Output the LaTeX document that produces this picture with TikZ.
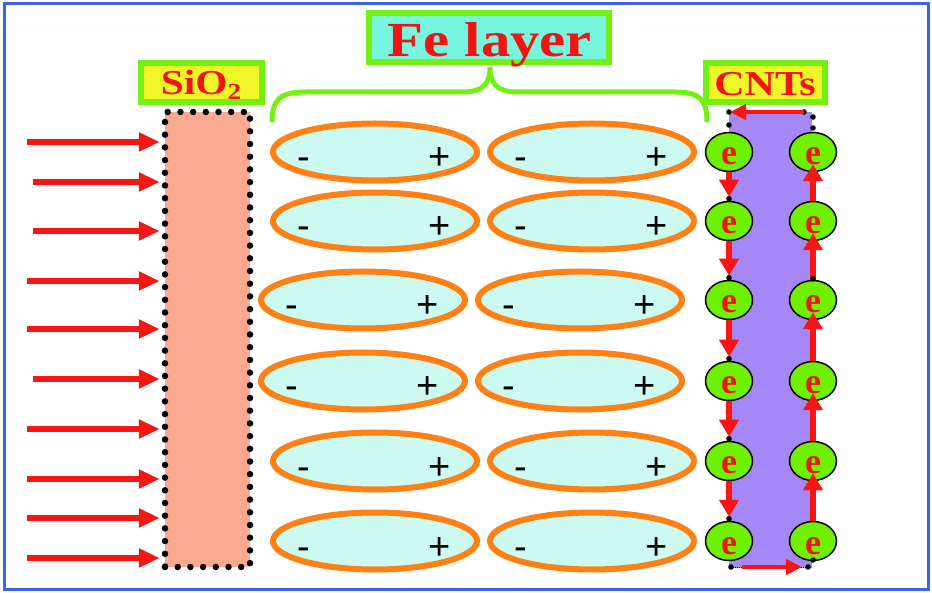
\documentclass[tikz,border=0pt]{standalone}
\usepackage{fontspec}
\setmainfont{Liberation Serif}
\newfontfamily\signfont{Liberation Sans}
\usepackage{graphicx}
\usepackage{tikz}
\usetikzlibrary{arrows.meta}
\usetikzlibrary{shapes.geometric}
\usetikzlibrary{calc}

\definecolor{frameblue}{RGB}{60,100,235}
\definecolor{limegreen}{RGB}{115,240,20}
\definecolor{tagyellow}{RGB}{240,245,40}
\definecolor{tagcyan}{RGB}{120,245,222}
\definecolor{labelred}{RGB}{240,20,20}
\definecolor{arrowred}{RGB}{250,20,20}
\definecolor{salmon}{RGB}{250,170,145}
\definecolor{fefill}{RGB}{205,250,240}
\definecolor{feorange}{RGB}{255,128,20}
\definecolor{cntpurple}{RGB}{165,135,245}
\definecolor{egreen}{RGB}{110,240,0}

\tikzset{
  labelbox/.style={draw=limegreen, line width=6pt, inner sep=0pt},
  labeltext/.style={anchor=base, text=labelred, font=\bfseries\fontsize{35}{36}\selectfont},
  wall/.style={draw=black, fill=salmon, line width=6.5pt, line cap=round,
    dash pattern=on 0pt off 12.7pt, inner sep=0pt},
  feball/.style={ellipse, draw=feorange, fill=fefill, line width=6pt,
    minimum width=204pt, minimum height=57pt, inner sep=0pt},
  charge/.style={anchor=base, font=\signfont\fontsize{38}{40}\selectfont},
  electron/.style={ellipse, draw=black, line width=1.5pt, fill=egreen,
    minimum width=47pt, minimum height=39pt, inner sep=0pt, text=labelred,
    font=\bfseries\fontsize{36}{38}\selectfont, text height=26pt, text depth=0pt},
  incident/.style={draw=arrowred, line width=6pt, -{Triangle[length=21pt,width=18pt]}},
  eflow/.style={draw=arrowred, line width=5.5pt, -{Triangle[length=17pt,width=19pt]}},
  contact/.style={fill=black},
}

\begin{document}
\begin{tikzpicture}[x=1pt, y=-1pt]
  \useasboundingbox (0,0) rectangle (932,593);
  \draw[frameblue, line width=3pt] (4,4) rectangle (928,589);

  % labels
  \node[labelbox, fill=tagcyan, minimum width=240pt, minimum height=49pt] (felabel) at (489,37.5) {};
  \node[labeltext, font=\bfseries\fontsize{49}{50}\selectfont] (fetext) at (490,57) {\scalebox{1.2}[1]{Fe layer}};
  \node[labelbox, fill=tagyellow, minimum width=121pt, minimum height=39pt] (sio2label) at (201.5,82.5) {};
  \node[labeltext] (sio2text) at (201,95) {\scalebox{1.18}[1]{SiO\raisebox{-5pt}{\fontsize{23}{23}\selectfont 2}}};
  \node[labelbox, fill=tagyellow, minimum width=119pt, minimum height=39pt] (cntlabel) at (765.5,82.5) {};
  \node[labeltext] (cnttext) at (765,96) {\scalebox{1.2}[1]{CNTs}};

  % brace
  \draw[limegreen, line width=5pt] (272,122) .. controls (272,100) and (280,92) .. (305,92)
    -- (462,92) .. controls (482,92) and (490,85) .. (490,67)
    .. controls (490,85) and (498,92) .. (518,92) -- (675,92)
    .. controls (700,92) and (707,100) .. (707,122);

  % SiO2 wall and incident arrows
  \node[wall, minimum width=85pt, minimum height=455pt] (sio2) at (207.5,339.5) {};
  \foreach \i/\x/\y in {1/27/142, 2/33/182, 3/33/231, 4/27/281, 5/27/329,
                        6/33/379, 7/27/429, 8/27/479, 9/27/518, 10/27/558}{
    \coordinate (in\i) at (\x,\y);
    \draw[incident, shorten >=2pt] (in\i) -- (in\i -| sio2.west);
  }

  % Fe layer
  \foreach \r/\y/\s in {1/152/0, 2/221/0, 3/300/12, 4/381/12, 5/461/0, 6/541/0}{
    \node[feball] (feA\r) at (375-\s,\y) {};
    \node[feball] (feB\r) at (592-\s,\y) {};
    \foreach \c in {A,B}{
      \node[charge] (minus\c\r) at ($(fe\c\r.center)+(-71,18)$) {-};
      \node[charge] (plus\c\r) at ($(fe\c\r.center)+(65,18)$) {+};
    }
  }

  % CNTs
  \node[fill=cntpurple, minimum width=83pt, minimum height=456pt, inner sep=0pt] (cnt) at (770.5,340) {};
  \coordinate (cnttl) at (730,112);
  \coordinate (cnttr) at (804,112);
  \coordinate (cntbl) at (742,567);
  \coordinate (cntbr) at (802,567);
  \draw[black, densely dotted, line width=1pt] (cnttl) -- (cnttr);
  \draw[black, densely dotted, line width=1pt] (731,567) -- (808,567);
  \foreach \r/\y in {1/152, 2/221, 3/300, 4/381, 5/461, 6/541}{
    \node[electron] (eL\r) at (729,\y) {e};
    \node[electron] (eR\r) at (813,\y) {e};
  }
  \foreach \i/\j in {1/2, 2/3, 3/4, 4/5, 5/6}{
    \draw[eflow, shorten >=4pt] (eL\i) -- (eL\j);
    \draw[eflow, shorten >=-8pt] (eR\j) -- (eR\i);
  }
  \foreach \i in {2,...,6}{
    \fill[contact] ($(eL\i.north)+(0,-2)$) circle[radius=2.8pt];
  }
  \fill[contact] ($(eR3.north)+(0,-1)$) circle[radius=2.8pt];
  \foreach \p in {(729,112), (804,112), (813,117), (813,128), (729,125),
                  (731,567), (808,567), (813,560)}{
    \fill[contact] \p circle[radius=2.8pt];
  }
  \draw[eflow, line width=4.5pt, -{Triangle[length=16pt,width=15pt]}] (cnttr) -- (cnttl);
  \draw[eflow, line width=4.5pt, -{Triangle[length=16pt,width=15pt]}] (cntbl) -- (cntbr);
\end{tikzpicture}
\end{document}
